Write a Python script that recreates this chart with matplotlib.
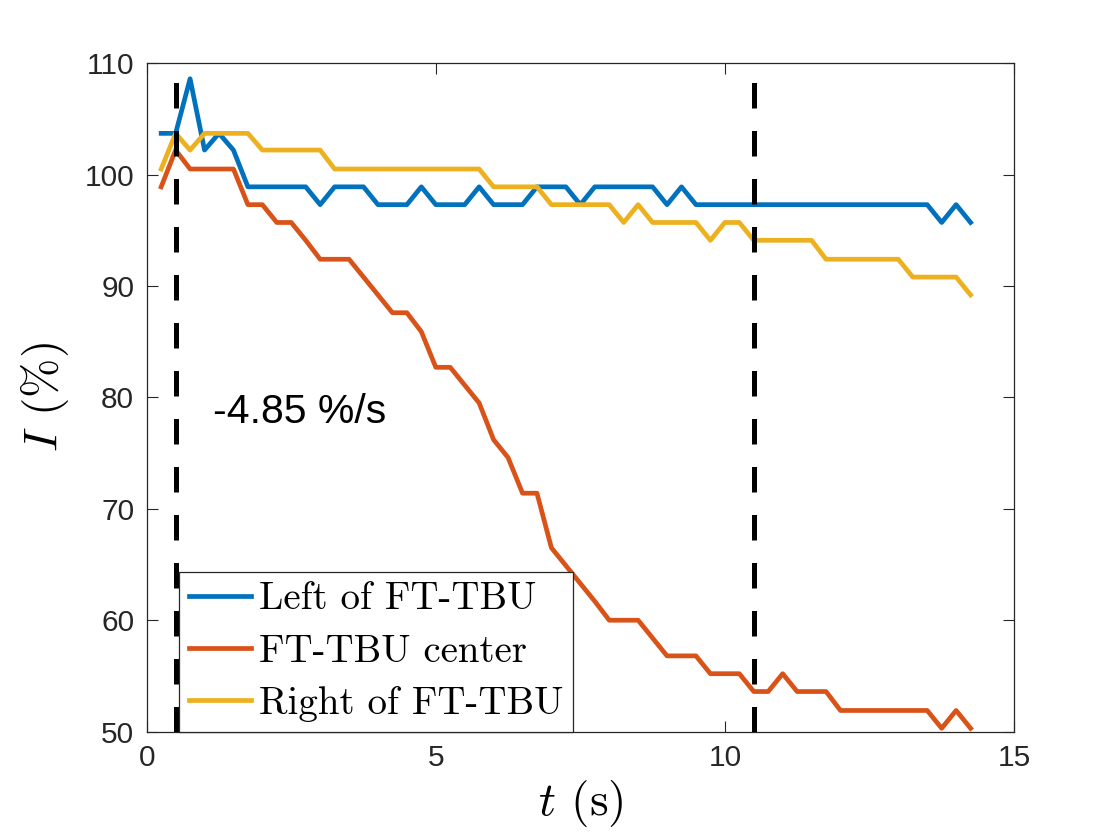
import matplotlib
matplotlib.use('Agg')
import matplotlib.pyplot as plt

plt.rcParams['mathtext.fontset'] = 'cm'
plt.rcParams['font.family'] = ['Liberation Sans', 'DejaVu Sans']

# time (s)
t = [0.25, 0.5, 0.75, 1.0, 1.25, 1.5, 1.75, 2.0, 2.25, 2.5,
     2.75, 3.0, 3.25, 3.5, 3.75, 4.0, 4.25, 4.5, 4.75, 5.0,
     5.25, 5.5, 5.75, 6.0, 6.25, 6.5, 6.75, 7.0, 7.25, 7.5,
     7.75, 8.0, 8.25, 8.5, 8.75, 9.0, 9.25, 9.5, 9.75, 10.0,
     10.25, 10.5, 10.75, 11.0, 11.25, 11.5, 11.75, 12.0, 12.25, 12.5,
     12.75, 13.0, 13.25, 13.5, 13.75, 14.0, 14.25]

left = [103.7, 103.7, 108.6, 102.2, 103.7, 102.2, 98.9, 98.9, 98.9, 98.9,
        98.9, 97.3, 98.9, 98.9, 98.9, 97.3, 97.3, 97.3, 98.9, 97.3,
        97.3, 97.3, 98.9, 97.3, 97.3, 97.3, 98.9, 98.9, 98.9, 97.3,
        98.9, 98.9, 98.9, 98.9, 98.9, 97.3, 98.9, 97.3, 97.3, 97.3,
        97.3, 97.3, 97.3, 97.3, 97.3, 97.3, 97.3, 97.3, 97.3, 97.3,
        97.3, 97.3, 97.3, 97.3, 95.7, 97.3, 95.7]

center = [98.9, 102.2, 100.5, 100.5, 100.5, 100.5, 97.3, 97.3, 95.7, 95.7,
          94.1, 92.4, 92.4, 92.4, 90.8, 89.2, 87.6, 87.6, 85.9, 82.7,
          82.7, 81.1, 79.5, 76.2, 74.6, 71.4, 71.4, 66.5, 64.9, 63.3,
          61.7, 60.0, 60.0, 60.0, 58.4, 56.8, 56.8, 56.8, 55.2, 55.2,
          55.2, 53.6, 53.6, 55.2, 53.6, 53.6, 53.6, 51.9, 51.9, 51.9,
          51.9, 51.9, 51.9, 51.9, 50.3, 51.9, 50.3]

right = [100.5, 103.7, 102.2, 103.7, 103.7, 103.7, 103.7, 102.2, 102.2, 102.2,
         102.2, 102.2, 100.5, 100.5, 100.5, 100.5, 100.5, 100.5, 100.5, 100.5,
         100.5, 100.5, 100.5, 98.9, 98.9, 98.9, 98.9, 97.3, 97.3, 97.3,
         97.3, 97.3, 95.7, 97.3, 95.7, 95.7, 95.7, 95.7, 94.1, 95.7,
         95.7, 94.1, 94.1, 94.1, 94.1, 94.1, 92.4, 92.4, 92.4, 92.4,
         92.4, 92.4, 90.8, 90.8, 90.8, 90.8, 89.2]

labels = ['Left of FT-TBU', 'FT-TBU center', 'Right of FT-TBU']
colors = ['#0072BD', '#D95319', '#EDB120']
dash_x = [0.5, 10.5]
rate_text = '-4.85 %/s'

fig = plt.figure(figsize=(11.2, 8.4), dpi=100)
ax = fig.add_axes([0.131, 0.129, 0.7743, 0.7958])

for y, lab, c in zip([left, center, right], labels, colors):
    ax.plot(t, y, color=c, lw=3.4, label=lab, zorder=2)

for xv in dash_x:
    ax.axvline(xv, color='k', lw=3.6, dashes=(5.1, 4.5), zorder=3)

ax.text(1.15, 78.7, rate_text, fontsize=29.5, va='center', ha='left',
        color='k', family=['Liberation Sans'])

ax.set_xlim(0, 15)
ax.set_ylim(50, 110)
ax.set_xticks([0, 5, 10, 15])
ax.set_yticks([50, 60, 70, 80, 90, 100, 110])

ax.tick_params(direction='in', length=8, width=0.8, colors='#262626',
               labelsize=21.5, top=True, right=True, pad=9)
for sp in ax.spines.values():
    sp.set_color('#262626')
    sp.set_linewidth(0.9)

ax.set_xlabel(r'$t$ (s)', fontsize=34, family='cmr10', labelpad=4)
ax.set_ylabel(r'$I$ (%)', fontsize=34, family='cmr10', labelpad=10)

leg = ax.legend(loc='lower left', bbox_to_anchor=(0.037, 0.0), borderaxespad=0,
                prop={'family': 'cmr10', 'size': 28}, handlelength=1.6,
                handletextpad=0.2, labelspacing=0.42, borderpad=0.25,
                fancybox=False, framealpha=1, edgecolor='#262626')
leg.get_frame().set_linewidth(0.9)
leg.set_zorder(5)

fig.savefig('out.png', dpi=100)
